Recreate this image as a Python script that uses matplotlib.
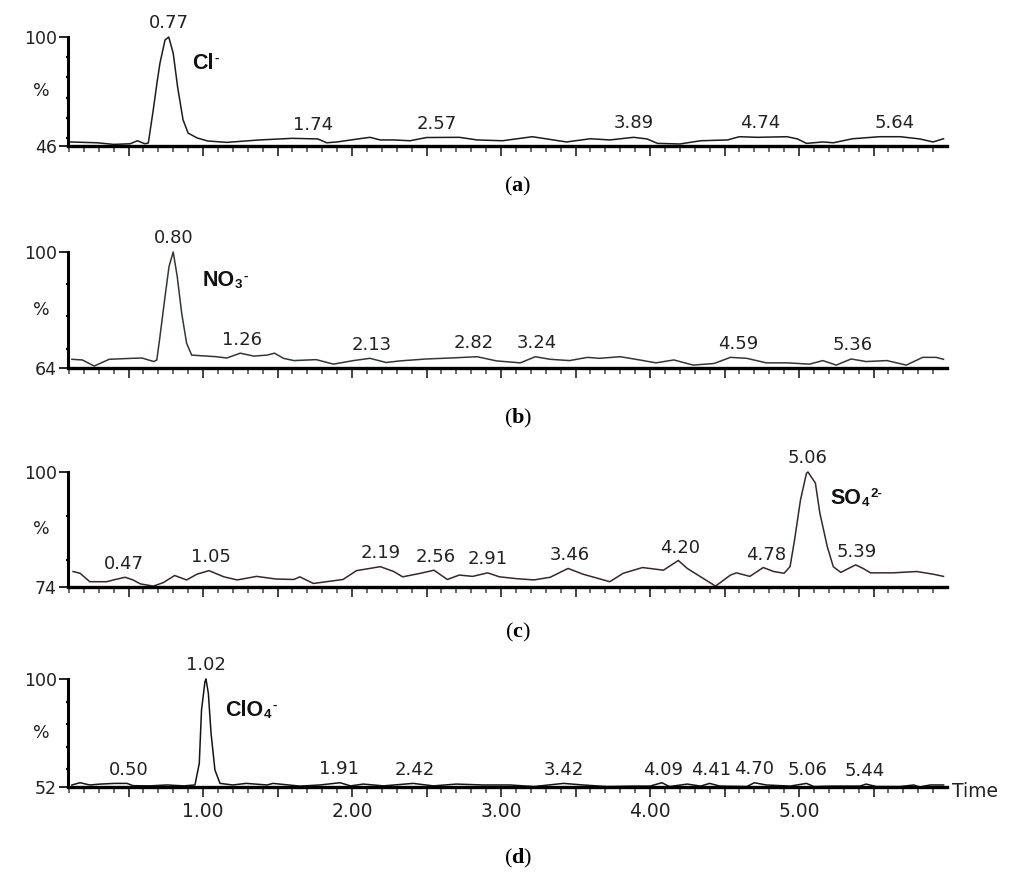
import numpy as np
import matplotlib
matplotlib.use("Agg")
import matplotlib.pyplot as plt
from matplotlib.ticker import MultipleLocator, FuncFormatter, FixedLocator

plt.rcParams['mathtext.fontset'] = 'custom'
plt.rcParams['mathtext.rm'] = 'Liberation Serif'
plt.rcParams['mathtext.bf'] = 'Liberation Serif:bold'

# ---------------- data (time in min, relative abundance in %) ----------------
t_a = [0.107, 0.29, 0.40, 0.51, 0.56, 0.61, 0.633, 0.666, 0.691, 0.711, 0.745, 0.77, 0.80, 0.83, 0.866,
       0.90, 0.96, 1.03, 1.16, 1.38, 1.60, 1.77, 1.83, 1.90, 2.05, 2.12, 2.19, 2.28, 2.39, 2.50, 2.72,
       2.84, 3.01, 3.21, 3.44, 3.60, 3.73, 3.89, 3.98, 4.05, 4.20, 4.34, 4.52, 4.60, 4.72, 4.92, 4.99,
       5.05, 5.16, 5.23, 5.36, 5.54, 5.68, 5.81, 5.90, 5.97]
v_a = [48.0, 47.6, 46.8, 47.1, 48.6, 47.1, 47.5, 63.8, 77.2, 87.0, 98.5, 100.0, 92.0, 75.0, 59.0,
       52.4, 50.0, 48.5, 47.8, 49.0, 49.8, 49.5, 47.6, 48.0, 49.6, 50.3, 49.0, 49.0, 48.6, 50.2, 50.3,
       49.0, 48.6, 50.6, 48.0, 49.6, 49.0, 50.3, 49.5, 47.3, 47.0, 48.6, 49.0, 50.6, 50.3, 50.6, 49.5,
       47.3, 48.0, 47.6, 49.6, 50.6, 50.6, 49.5, 48.0, 49.6]
peaks_a = [0.77, 1.74, 2.57, 3.89, 4.74, 5.64]

t_b = [0.12, 0.19, 0.27, 0.37, 0.52, 0.59, 0.67, 0.69, 0.711, 0.745, 0.772, 0.80, 0.827, 0.857, 0.89,
       0.924, 1.09, 1.16, 1.25, 1.34, 1.43, 1.48, 1.54, 1.61, 1.76, 1.875, 2.01, 2.12, 2.23, 2.32,
       2.50, 2.66, 2.84, 2.97, 3.13, 3.23, 3.33, 3.46, 3.58, 3.66, 3.80, 3.93, 4.04, 4.16, 4.29, 4.43,
       4.54, 4.65, 4.78, 4.92, 5.07, 5.16, 5.25, 5.35, 5.45, 5.59, 5.72, 5.83, 5.92, 5.97]
v_b = [66.7, 66.5, 64.6, 66.7, 67.0, 67.1, 66.0, 66.5, 73.7, 86.1, 95.5, 100.0, 92.4, 81.0, 71.7,
       68.0, 67.5, 67.1, 68.6, 67.7, 68.0, 68.6, 67.0, 66.3, 66.6, 65.2, 66.3, 67.0, 65.7, 66.2,
       66.8, 67.1, 67.5, 66.2, 65.6, 67.5, 66.7, 66.3, 67.3, 67.0, 67.5, 66.5, 65.6, 66.5, 64.9, 65.4,
       67.3, 67.0, 65.6, 65.6, 65.2, 66.3, 64.9, 66.8, 66.0, 66.3, 64.9, 67.3, 67.3, 66.7]
peaks_b = [0.80, 1.26, 2.13, 2.82, 3.24, 4.59, 5.36]

t_c = [0.128, 0.175, 0.24, 0.354, 0.40, 0.477, 0.53, 0.58, 0.667, 0.734, 0.81, 0.89, 0.96, 1.04,
       1.14, 1.23, 1.36, 1.49, 1.61, 1.65, 1.74, 1.83, 1.94, 2.03, 2.12, 2.19, 2.28, 2.34, 2.46, 2.55,
       2.64, 2.72, 2.81, 2.91, 2.99, 3.10, 3.22, 3.33, 3.45, 3.55, 3.73, 3.82, 3.95, 4.02, 4.09, 4.19,
       4.25, 4.34, 4.44, 4.54, 4.58, 4.67, 4.76, 4.83, 4.90, 4.94, 4.97, 5.01, 5.05, 5.06, 5.11, 5.14,
       5.19, 5.23, 5.28, 5.38, 5.43, 5.48, 5.63, 5.79, 5.90, 5.97]
v_c = [77.5, 77.1, 75.2, 75.2, 75.6, 76.2, 75.6, 74.7, 74.2, 75.0, 76.6, 75.6, 76.9, 77.7,
       76.3, 75.6, 76.4, 75.8, 75.7, 76.3, 74.8, 75.2, 75.7, 77.7, 78.2, 78.6, 77.5, 76.3, 77.1, 77.8,
       75.7, 76.7, 76.4, 77.2, 76.3, 75.9, 75.6, 76.2, 78.2, 76.9, 75.2, 77.1, 78.4, 78.1, 77.8, 80.0,
       78.2, 76.3, 74.2, 76.7, 77.2, 76.4, 78.4, 77.5, 77.1, 78.6, 84.6, 93.7, 99.7, 100.0, 97.5, 90.7,
       83.1, 78.6, 77.3, 79.0, 78.2, 77.2, 77.2, 77.5, 76.9, 76.4]
peaks_c = [0.47, 1.05, 2.19, 2.56, 2.91, 3.46, 4.20, 4.78, 5.06, 5.39]

t_d = [0.12, 0.175, 0.24, 0.31, 0.41, 0.49, 0.53, 0.64, 0.76, 0.87, 0.946, 0.975, 0.99, 1.013, 1.02,
       1.036, 1.054, 1.08, 1.114, 1.20, 1.29, 1.43, 1.47, 1.65, 1.785, 1.92, 1.99, 2.076, 2.21, 2.41,
       2.546, 2.70, 2.88, 3.06, 3.22, 3.42, 3.55, 3.71, 3.89, 4.00, 4.08, 4.13, 4.25, 4.34, 4.40, 4.47,
       4.65, 4.70, 4.78, 4.94, 5.05, 5.10, 5.23, 5.41, 5.45, 5.52, 5.68, 5.77, 5.81, 5.88, 5.97]
v_d = [52.9, 53.9, 52.9, 53.3, 53.6, 53.6, 52.6, 52.5, 52.9, 52.5, 52.9, 62.5, 86.2, 98.8, 100.0,
       93.6, 75.9, 59.6, 53.6, 52.9, 53.6, 52.9, 53.6, 52.4, 52.9, 53.9, 52.5, 53.3, 52.5, 53.6,
       52.5, 53.3, 52.9, 52.9, 52.2, 53.6, 52.9, 52.2, 52.4, 52.4, 53.9, 52.2, 53.3, 52.4, 53.6, 52.4,
       52.2, 53.9, 52.9, 52.4, 53.6, 52.2, 52.4, 52.4, 53.3, 52.2, 52.2, 52.9, 52.0, 52.9, 52.9]
peaks_d = [0.50, 1.02, 1.91, 2.42, 3.42, 4.09, 4.41, 4.70, 5.06, 5.44]

y_min = [46, 64, 74, 52]
ion_base = ["Cl", "NO", "SO", "ClO"]
ion_sub = ["", "3", "4", "4"]
ion_sup = ["-", "-", "2-", "-"]
captions = ["a", "b", "c", "d"]

# ---------------- layout / style ----------------
W, H = 1024, 894
fig = plt.figure(figsize=(W / 100, H / 100), dpi=100)
fig.patch.set_facecolor('white')

x_left, x_right = 68, 947
ax_px = [(37, 146), (252, 368), (472, 587), (679, 787)]  # (top, bottom) in px
caption_y = [186, 418, 632, 858]
ion_pos = [(0.93, 87.0), (0.995, 91.0), (5.21, 94.0), (1.15, 86.0)]
colors = ['#1c1c1c', '#2f3a2f', '#3a2626', '#141414']
series = [(t_a, v_a, peaks_a), (t_b, v_b, peaks_b), (t_c, v_c, peaks_c), (t_d, v_d, peaks_d)]

XLIM = (1 + (x_left - 203) / 149, 1 + (x_right - 203) / 149)


def fmt_major(x, pos):
    return f"{x:.2f}" if abs(x - round(x)) < 1e-6 else ""


for i, ((t, v, pk), ymin, cap) in enumerate(zip(series, y_min, captions)):
    top, bot = ax_px[i]
    ax = fig.add_axes([x_left / W, 1 - bot / H, (x_right - x_left) / W, (bot - top) / H])
    ax.set_xlim(*XLIM)
    ax.set_ylim(ymin, 100)
    ax.patch.set_alpha(0)
    for s in ['top', 'right']:
        ax.spines[s].set_visible(False)
    ax.spines['left'].set_linewidth(2.2)
    ax.spines['bottom'].set_linewidth(2.4)

    ax.plot(t, v, color=colors[i], lw=1.1, clip_on=False)

    # x ticks
    ax.xaxis.set_major_locator(MultipleLocator(0.5))
    ax.xaxis.set_minor_locator(MultipleLocator(0.1))
    ax.tick_params(axis='x', which='major', direction='out', length=7.5, width=1.2, color='#222')
    ax.tick_params(axis='x', which='minor', direction='out', length=4.5, width=1.1, color='#444')
    if i == 3:
        ax.xaxis.set_major_formatter(FuncFormatter(fmt_major))
        ax.tick_params(axis='x', which='major', labelsize=13.5, pad=3, labelcolor='#222')
        ax.text(1.006, -0.045, "Time", transform=ax.transAxes, ha='left', va='center',
                fontsize=13.5, color='#222', family='DejaVu Sans')
    else:
        ax.xaxis.set_major_formatter(FuncFormatter(lambda x, p: ""))

    # y ticks
    ax.yaxis.set_major_locator(FixedLocator([ymin, 100]))
    ax.yaxis.set_major_formatter(FuncFormatter(lambda y, p: f"{int(round(y))}"))
    minor_y = [m for m in range(0, 100, 10) if m > ymin]
    ax.yaxis.set_minor_locator(FixedLocator(minor_y))
    ax.tick_params(axis='y', which='major', direction='out', length=6.5, width=1.2,
                   labelsize=12.5, pad=1.5, labelcolor='#222')
    ax.tick_params(axis='y', which='minor', direction='out', length=1.8, width=1.6)
    ax.text(-0.021, 0.5, "%", transform=ax.transAxes, ha='right', va='center',
            fontsize=12.5, color='#222')

    # peak labels
    for p in pk:
        yv = float(np.interp(p, t, v))
        ax.annotate(f"{p:.2f}", xy=(p, yv), xytext=(0, 3.5), textcoords='offset points',
                    ha='center', va='bottom', fontsize=13, color='#222',
                    annotation_clip=False)

    # ion label: base text + subscript + superscript
    ion_kw = dict(fontweight='bold', family='Liberation Sans', color='#111')
    base = ax.text(ion_pos[i][0], ion_pos[i][1], ion_base[i], ha='left', va='center',
                   fontsize=15.5, **ion_kw)
    anchor = base
    if ion_sub[i]:
        anchor = ax.annotate(ion_sub[i], xy=(1.0, 0.0), xycoords=base, xytext=(0.5, 0.0),
                             textcoords='offset points', ha='left', va='bottom',
                             fontsize=9.5, **ion_kw)
    ax.annotate(ion_sup[i], xy=(1.0, 1.0), xycoords=(anchor, base), xytext=(0.5, 0.0),
                textcoords='offset points', ha='left', va='top', fontsize=9.5, **ion_kw)

    # caption
    fig.text(518 / W, 1 - caption_y[i] / H, r"($\mathbf{" + cap + r"}$)", ha='center',
             va='center', fontsize=16, family='Liberation Serif')

fig.savefig("out.png", dpi=100, facecolor='white')
